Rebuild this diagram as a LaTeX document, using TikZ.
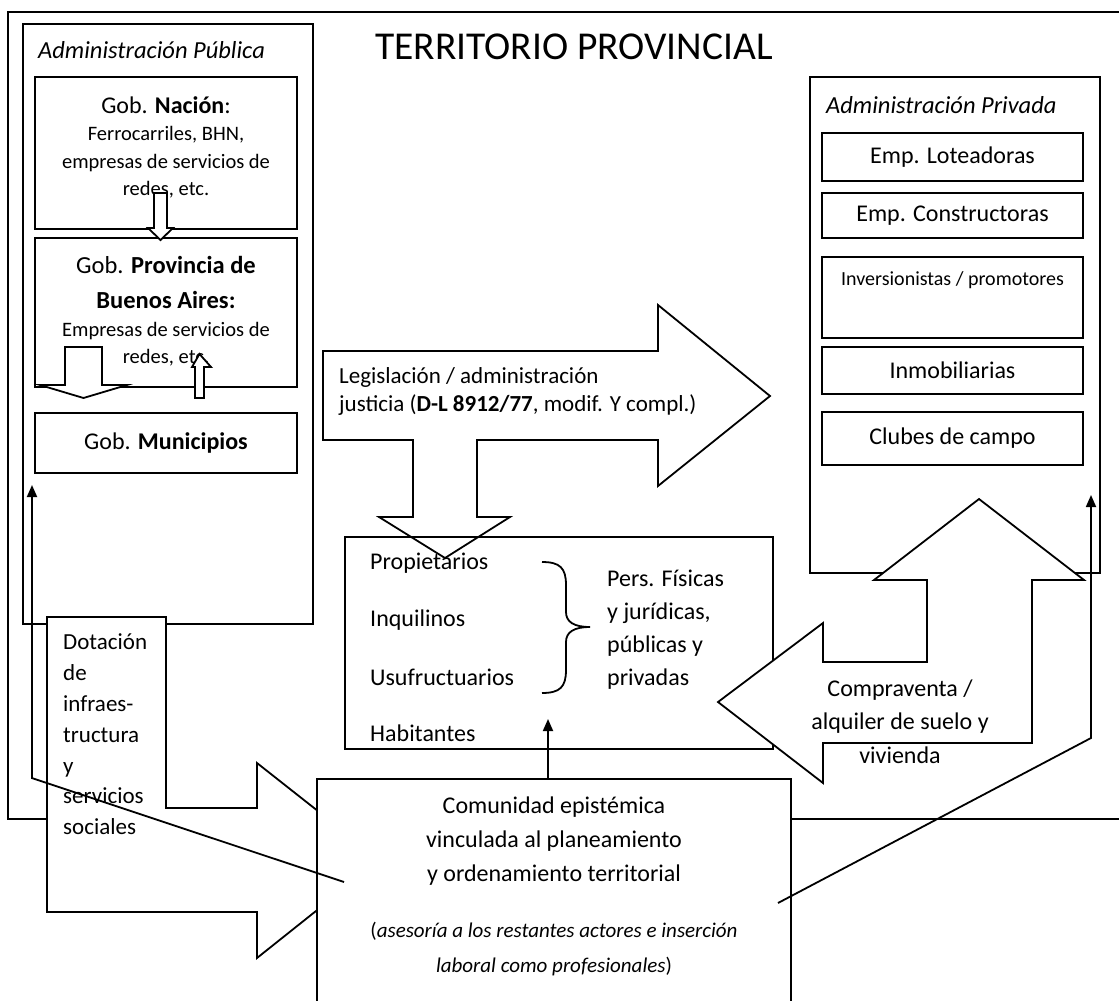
\documentclass[tikz,border=0pt]{standalone}
\usepackage{fontspec}
\setmainfont{Carlito}
\usetikzlibrary{arrows.meta}
\tikzset{
  outerframe/.style={draw=black, line width=1.8pt},
  panel/.style={rectangle, draw=black, fill=white, line width=1.8pt, inner sep=0pt},
  box/.style={rectangle, draw=black, fill=white, line width=1.8pt, inner sep=0pt, align=center, font=\fontsize{24}{34}\selectfont},
  openbox/.style={rectangle, draw=black, line width=1.8pt, inner sep=0pt},
  blockarrow/.style={draw=black, fill=white, line width=1.8pt, line join=miter},
  txt/.style={inner sep=0pt, align=center, font=\fontsize{24}{34}\selectfont},
  lefttxt/.style={inner sep=0pt, anchor=west, align=left, font=\fontsize{24}{33}\selectfont},
  subtxt/.style={inner sep=0pt, align=center, font=\fontsize{20.5}{27.5}\selectfont},
  headtxt/.style={inner sep=0pt, anchor=west, font=\fontsize{24.5}{30}\selectfont\itshape},
  titletxt/.style={inner sep=0pt, font=\fontsize{39.5}{44}\selectfont},
  brace/.style={draw=black, line width=1.8pt},
  flow/.style={-{Triangle[length=12pt, width=10pt]}, line width=1.8pt, draw=black}
}

\begin{document}
\begin{tikzpicture}[x=1pt, y=-1pt]
\useasboundingbox (0,0) rectangle (1119,1001);
\fill[white] (0,0) rectangle (1119,1001);
\clip (0,0) rectangle (1119,1001);

% territorio
\draw[outerframe] (8,12) rectangle (1140,819);
\node[titletxt] (titulo) at (574,47) {TERRITORIO PROVINCIAL};

% administracion publica
\node[panel, minimum width=290pt, minimum height=600pt] (publica) at (168,324) {};
\node[headtxt] (publicatit) at (38,50) {Administración Pública};
\node[box, minimum width=262pt, minimum height=152pt] (nacion) at (166,153) {};
\node[txt] (naciontit) at (166,105) {Gob. \textbf{Nación}:};
\node[subtxt] (nacionsub) at (166,162.5) {Ferrocarriles, BHN,\\empresas de servicios de\\redes, etc.};
\node[box, minimum width=262pt, minimum height=149pt] (provincia) at (166,312.5) {};
\node[txt, font=\fontsize{24.5}{35}\selectfont] (provinciatit) at (166,282.5) {Gob. \textbf{Provincia de}\\\textbf{Buenos Aires:}};
\node[subtxt] (provinciasub) at (166,344) {Empresas de servicios de\\redes, etc.};
\node[box, minimum width=262pt, minimum height=60pt] (municipios) at (166,443) {Gob. \textbf{Municipios}};

\draw[blockarrow] (154,193) -- (167,193) -- (167,228) -- (173,228) -- (160.5,240) -- (148,228) -- (154,228) -- cycle;
\draw[blockarrow] (65,347) -- (102,347) -- (102,385) -- (127,385) -- (83.5,398) -- (40,385) -- (65,385) -- cycle;
\draw[blockarrow] (195,398) -- (204,398) -- (204,367) -- (211,367) -- (199.5,354) -- (192,367) -- (195,367) -- cycle;

% administracion privada
\node[panel, minimum width=290pt, minimum height=496pt] (privada) at (955,325) {};
\node[headtxt] (privadatit) at (826,105) {Administración Privada};
\node[box, minimum width=261pt, minimum height=48pt] (loteadoras) at (952.5,157) {Emp. Loteadoras};
\node[box, minimum width=261pt, minimum height=45pt] (constructoras) at (952.5,215.5) {Emp. Constructoras};
\node[box, minimum width=261pt, minimum height=81pt] (inversionistas) at (952.5,297.5) {};
\node[subtxt, font=\fontsize{20}{26}\selectfont] (inversionistastxt) at (952.5,280) {Inversionistas / promotores};
\node[box, minimum width=261pt, minimum height=47pt] (inmobiliarias) at (952.5,370.5) {Inmobiliarias};
\node[box, minimum width=261pt, minimum height=53pt] (clubes) at (952.5,438.5) {Clubes de campo};

% legislacion
\draw[blockarrow] (323,351) -- (658,351) -- (658,305) -- (770,396) -- (658,486) -- (658,440)
  -- (477,440) -- (477,517) -- (510,517) -- (445,558) -- (379,517) -- (413,517) -- (413,440)
  -- (323,440) -- cycle;
\node[lefttxt, font=\fontsize{23}{28}\selectfont] (legislacion) at (339,391) {Legislación / administración\\justicia (\textbf{D-L 8912/77}, modif. Y compl.)};

% actores
\node[openbox, minimum width=428pt, minimum height=212pt] (actores) at (559,643) {};
\node[lefttxt] (propietarios) at (370,563) {Propietarios};
\node[lefttxt] (inquilinos) at (370,620) {Inquilinos};
\node[lefttxt] (usufructuarios) at (370,677) {Usufructuarios};
\node[lefttxt] (habitantes) at (370,733) {Habitantes};
\draw[brace] (542,562) .. controls (560,562) and (566,568) .. (566,585) -- (566,612)
  .. controls (566,622) and (574,627) .. (590,627)
  .. controls (574,627) and (566,632) .. (566,642) -- (566,670)
  .. controls (566,687) and (560,693) .. (542,693);
\node[lefttxt] (personas) at (607,629.5) {Pers. Físicas\\y jurídicas,\\públicas y\\privadas};

% compraventa
\draw[blockarrow] (979,499) -- (1084,580) -- (1032,580) -- (1032,743) -- (823,743) -- (823,783)
  -- (718,702) -- (823,623) -- (823,662) -- (927,662) -- (927,580) -- (874,580) -- cycle;
\node[txt, font=\fontsize{24}{33.5}\selectfont] (compraventa) at (900,721.5) {Compraventa /\\alquiler de suelo y\\vivienda};

% dotacion
\draw[blockarrow] (47,617) -- (166,617) -- (166,808) -- (257,808) -- (257,763) -- (380,860)
  -- (257,958) -- (257,912) -- (47,912) -- cycle;
\node[lefttxt, font=\fontsize{23}{30.8}\selectfont] (dotacion) at (63,734.5) {Dotación\\de\\infraes-\\tructura\\y\\servicios\\sociales};

% comunidad epistemica
\node[panel, minimum width=474pt, minimum height=281pt] (comunidad) at (554,919.5) {};
\node[txt] (comunidadtxt) at (554,841) {Comunidad epistémica\\vinculada al planeamiento\\y ordenamiento territorial};
\node[txt, font=\fontsize{21}{35}\selectfont] (asesoria) at (554,949.5) {(\textit{asesoría a los restantes actores e inserción}\\\textit{laboral como profesionales})};

% conexiones
\coordinate (comleft) at (344,882);
\coordinate (publicapt) at (32,485);
\coordinate (comright) at (778,903);
\coordinate (rightbend) at (1091,738);
\coordinate (privadapt) at (1091,495);
\coordinate (actorespt) at (548,719);
\draw[flow] (comleft) -- (publicapt |- comunidad.north) -- (publicapt);
\draw[flow] (comright) -- (rightbend) -- (privadapt);
\draw[flow] (actorespt |- comunidad.north) -- (actorespt);

\end{tikzpicture}
\end{document}
